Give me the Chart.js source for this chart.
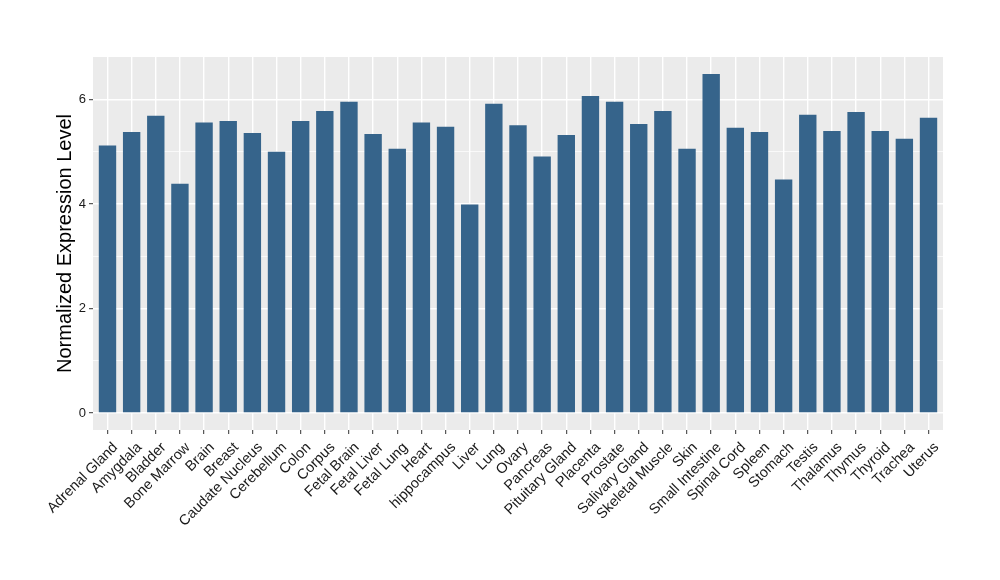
<!DOCTYPE html>
<html>
<head>
<meta charset="utf-8">
<script src="https://cdn.jsdelivr.net/npm/chart.js@4/dist/chart.umd.min.js"></script>
<style>
  html, body { margin: 0; padding: 0; background: #fff; }
</style>
</head>
<body>
<canvas id="canvas" width="1000" height="580"></canvas>
<script>
// values
var categories = ['Adrenal Gland', 'Amygdala', 'Bladder', 'Bone Marrow', 'Brain', 'Breast',
  'Caudate Nucleus', 'Cerebellum', 'Colon', 'Corpus', 'Fetal Brain', 'Fetal Liver',
  'Fetal Lung', 'Heart', 'hippocampus', 'Liver', 'Lung', 'Ovary', 'Pancreas',
  'Pituitary Gland', 'Placenta', 'Prostate', 'Salivary Gland', 'Skeletal Muscle', 'Skin',
  'Small Intestine', 'Spinal Cord', 'Spleen', 'Stomach', 'Testis', 'Thalamus', 'Thymus',
  'Thyroid', 'Trachea', 'Uterus'];
var expression = [5.12, 5.38, 5.69, 4.39, 5.56, 5.59,
  5.36, 5.00, 5.59, 5.78, 5.96, 5.34,
  5.06, 5.56, 5.48, 3.99, 5.92, 5.51, 4.91,
  5.32, 6.07, 5.96, 5.53, 5.78, 5.06,
  6.49, 5.46, 5.38, 4.47, 5.71, 5.40, 5.76,
  5.40, 5.25, 5.65];
var yTicks = [0, 1, 2, 3, 4, 5, 6];
var yLabelled = [0, 2, 4, 6];

Chart.defaults.font.family = "'Liberation Sans', Arial, sans-serif";

var points = [];
for (var i = 0; i < categories.length; i++) {
  points.push({ x: i, y: expression[i] });
}

// grey panel like ggplot
var panelBg = {
  id: 'panelBg',
  beforeDraw: function(chart) {
    var a = chart.chartArea;
    var c = chart.ctx;
    c.save();
    c.fillStyle = '#EBEBEB';
    c.fillRect(a.left, a.top, a.right - a.left, a.bottom - a.top);
    c.restore();
  }
};

var ctx = document.getElementById('canvas');
new Chart(ctx, {
  type: 'bar',
  data: {
    datasets: [{
      data: points,
      backgroundColor: '#36648B',
      barPercentage: 0.72,
      categoryPercentage: 1.0
    }]
  },
  options: {
    responsive: false,
    animation: false,
    layout: { padding: { left: 0, top: 57, right: 57, bottom: 0 } },
    plugins: { legend: { display: false }, tooltip: { enabled: false } },
    scales: {
      x: {
        type: 'linear',
        offset: false,
        min: -0.6,
        max: categories.length - 1 + 0.6,
        afterBuildTicks: function(scale) {
          scale.ticks = categories.map(function(_, i) { return { value: i }; });
        },
        afterFit: function(scale) { scale.height = 150; },
        border: { display: false },
        grid: {
          offset: false,
          color: '#FFFFFF',
          lineWidth: 1.4,
          tickColor: '#333333',
          tickLength: 4,
          tickWidth: 1
        },
        ticks: {
          autoSkip: false,
          maxRotation: 45,
          minRotation: 45,
          padding: 5,
          labelOffset: 8,
          color: '#1A1A1A',
          font: { size: 14.5 },
          callback: function(v) { return categories[v]; }
        }
      },
      y: {
        min: -0.3245,
        max: 6.8145,
        afterBuildTicks: function(scale) {
          scale.ticks = yTicks.map(function(v) { return { value: v }; });
        },
        afterFit: function(scale) { scale.width = 93; },
        border: { display: false },
        grid: {
          color: '#FFFFFF',
          lineWidth: function(c) { return c.tick && yLabelled.indexOf(c.tick.value) >= 0 ? 1.4 : 0.7; },
          tickColor: function(c) { return c.tick && yLabelled.indexOf(c.tick.value) >= 0 ? '#333333' : 'rgba(0,0,0,0)'; },
          tickLength: 4,
          tickWidth: 1
        },
        ticks: {
          padding: 3,
          color: '#1A1A1A',
          font: { size: 13 },
          callback: function(v) { return yLabelled.indexOf(v) >= 0 ? String(v) : ''; }
        },
        title: {
          display: true,
          text: 'Normalized Expression Level',
          color: '#000000',
          font: { size: 20 },
          padding: { top: 53, bottom: 0 }
        }
      }
    }
  },
  plugins: [panelBg]
});
</script>
</body>
</html>
